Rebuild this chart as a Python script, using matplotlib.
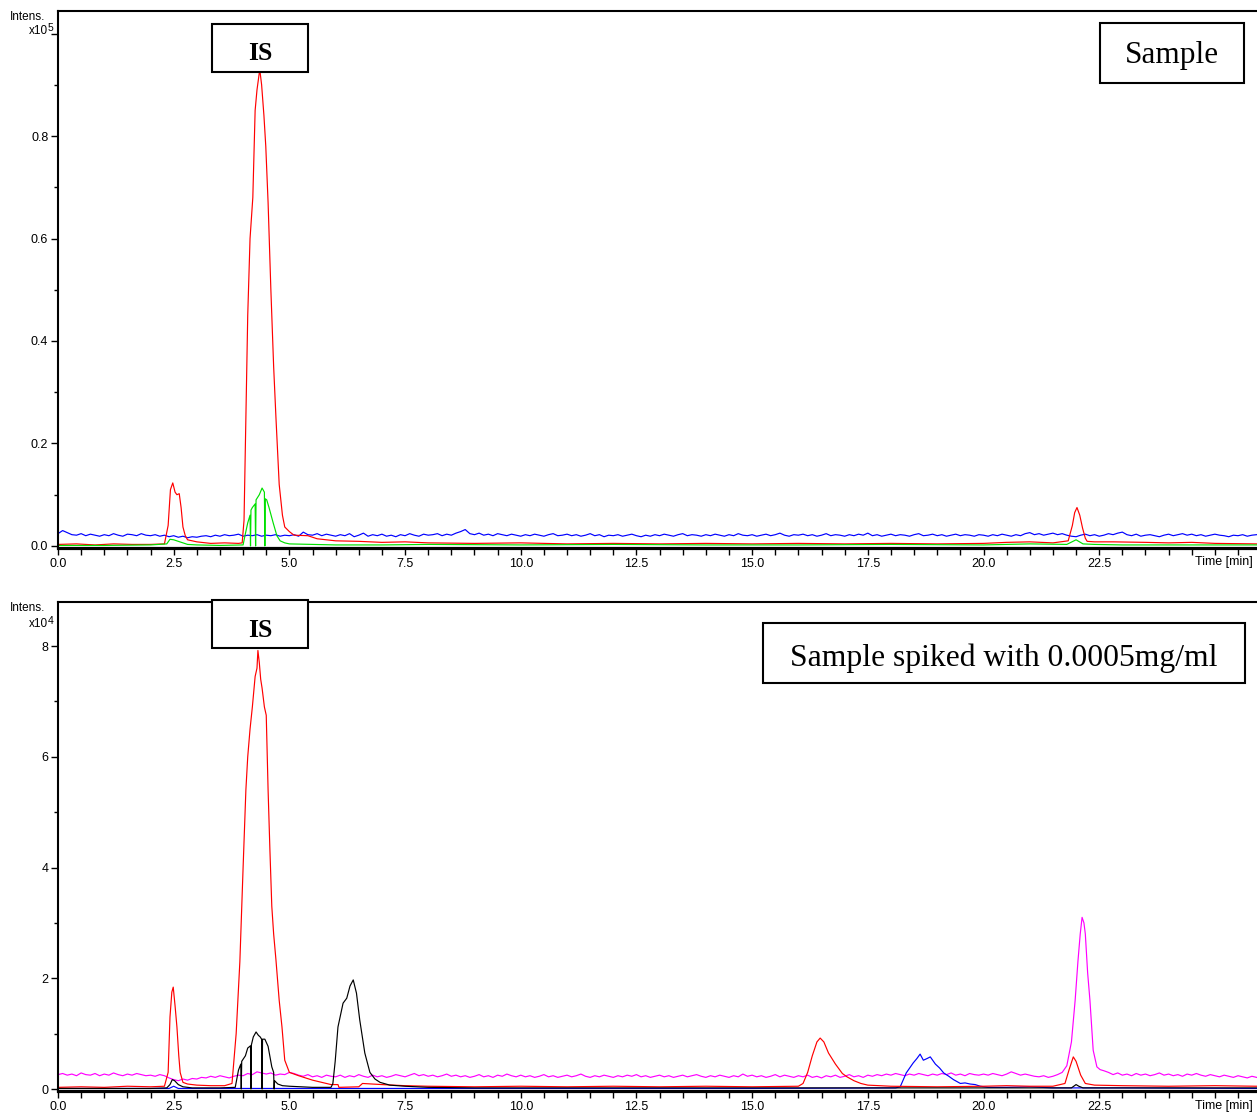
import matplotlib.pyplot as plt
import numpy as np
from matplotlib.patches import Rectangle
from matplotlib.ticker import MultipleLocator, FuncFormatter

plt.rcParams['font.family'] = ['Liberation Sans', 'DejaVu Sans']

W, H = 1257, 1113
XMAX = 25.91

# ---------- upper run: sample, intensity x10^5 ----------
# blue EIC, sampled every 0.1 min from 0.0 min
blue1_y = [
    0.024, 0.030, 0.026, 0.022, 0.021, 0.024, 0.020, 0.023, 0.021, 0.019,
    0.022, 0.020, 0.024, 0.021, 0.019, 0.023, 0.022, 0.020, 0.024, 0.021,
    0.020, 0.022, 0.019, 0.021, 0.018, 0.020, 0.017, 0.019, 0.016, 0.018,
    0.017, 0.019, 0.020, 0.018, 0.021, 0.019, 0.022, 0.020, 0.021, 0.023,
    0.019, 0.021, 0.020, 0.022, 0.019, 0.021, 0.020, 0.022, 0.019, 0.021,
    0.020, 0.022, 0.019, 0.027, 0.022, 0.021, 0.024, 0.020, 0.023, 0.021,
    0.019, 0.022, 0.020, 0.024, 0.018, 0.021, 0.025, 0.019, 0.022, 0.020,
    0.023, 0.019, 0.021, 0.018, 0.022, 0.020, 0.024, 0.021, 0.019, 0.023,
    0.021, 0.022, 0.024, 0.020, 0.023, 0.021, 0.025, 0.028, 0.032, 0.024,
    0.022, 0.025, 0.021, 0.023, 0.020, 0.024, 0.022, 0.020, 0.023, 0.021,
    0.019, 0.022, 0.020, 0.023, 0.021, 0.019, 0.022, 0.024, 0.020, 0.021,
    0.023, 0.020, 0.022, 0.019, 0.021, 0.024, 0.020, 0.022, 0.018, 0.021,
    0.020, 0.022, 0.019, 0.021, 0.023, 0.020, 0.018, 0.021, 0.019, 0.022,
    0.020, 0.023, 0.021, 0.019, 0.022, 0.024, 0.020, 0.022, 0.021, 0.019,
    0.022, 0.020, 0.023, 0.021, 0.019, 0.022, 0.020, 0.024, 0.021, 0.020,
    0.022, 0.019, 0.021, 0.023, 0.020, 0.022, 0.025, 0.021, 0.019, 0.022,
    0.021, 0.023, 0.020, 0.022, 0.019, 0.021, 0.024, 0.020, 0.022, 0.021,
    0.019, 0.022, 0.020, 0.023, 0.021, 0.025, 0.020, 0.022, 0.019, 0.021,
    0.023, 0.020, 0.022, 0.021, 0.019, 0.022, 0.024, 0.020, 0.021, 0.023,
    0.020, 0.022, 0.019, 0.021, 0.023, 0.020, 0.022, 0.021, 0.019, 0.022,
    0.021, 0.019, 0.022, 0.020, 0.023, 0.021, 0.019, 0.022, 0.020, 0.024,
    0.026, 0.022, 0.024, 0.021, 0.023, 0.025, 0.022, 0.024, 0.021, 0.019,
    0.018, 0.021, 0.023, 0.020, 0.022, 0.019, 0.021, 0.024, 0.022, 0.025,
    0.027, 0.022, 0.020, 0.023, 0.019, 0.021, 0.022, 0.020, 0.018, 0.021,
    0.023, 0.020, 0.022, 0.024, 0.021, 0.023, 0.020, 0.022, 0.019, 0.021,
    0.023, 0.021, 0.020, 0.018, 0.021, 0.020, 0.022, 0.019, 0.021, 0.022,
]

red1_t = [0.0, 0.4, 0.8, 1.2, 1.6, 2.0, 2.3, 2.38, 2.43, 2.48,
          2.53, 2.57, 2.62, 2.66, 2.7, 2.75, 2.8, 3.0, 3.3, 3.6,
          3.9, 3.98, 4.02, 4.06, 4.1, 4.15, 4.21, 4.26, 4.3, 4.33,
          4.36, 4.4, 4.45, 4.49, 4.54, 4.6, 4.66, 4.71, 4.78, 4.85,
          4.9, 5.0, 5.1, 5.4, 5.6, 5.8, 6.0, 6.5, 7.0, 7.5,
          8.0, 9.0, 10.0, 11.0, 12.0, 13.0, 14.0, 15.0, 16.0, 17.0,
          18.0, 19.0, 20.0, 20.5, 21.0, 21.5, 21.83, 21.92, 21.97, 22.02,
          22.08, 22.14, 22.2, 22.24, 22.4, 22.8, 23.5, 24.0, 24.5, 25.0,
          25.9]
red1_y = [0.003, 0.004, 0.002, 0.004, 0.003, 0.003, 0.004, 0.04, 0.11, 0.123,
          0.105, 0.1, 0.102, 0.075, 0.037, 0.02, 0.012, 0.008, 0.005, 0.006,
          0.005, 0.006, 0.05, 0.25, 0.45, 0.6, 0.68, 0.85, 0.89, 0.91,
          0.93, 0.9, 0.84, 0.78, 0.67, 0.5, 0.35, 0.25, 0.12, 0.06,
          0.037, 0.028, 0.021, 0.02, 0.014, 0.012, 0.01, 0.009, 0.007, 0.008,
          0.006, 0.005, 0.006, 0.004, 0.005, 0.004, 0.005, 0.004, 0.005, 0.004,
          0.005, 0.004, 0.005, 0.007, 0.008, 0.006, 0.01, 0.04, 0.065, 0.075,
          0.06, 0.035, 0.015, 0.009, 0.008, 0.008, 0.007, 0.006, 0.007, 0.005,
          0.004]

green1_t = [0.0, 1.0, 2.0, 2.35, 2.42, 2.5, 2.6, 2.7, 2.8, 3.0,
            3.5, 4.0, 4.04, 4.1, 4.15, 4.16, 4.17, 4.2, 4.26, 4.27,
            4.28, 4.35, 4.41, 4.46, 4.47, 4.48, 4.51, 4.56, 4.65, 4.73,
            4.8, 4.9, 5.0, 5.5, 6.0, 7.0, 8.0, 10.0, 12.0, 14.0,
            16.0, 18.0, 20.0, 21.0, 21.8, 22.0, 22.15, 22.4, 23.0, 25.9]
green1_y = [0.001, 0.001, 0.002, 0.004, 0.013, 0.012, 0.009, 0.006, 0.003, 0.002,
            0.001, 0.002, 0.02, 0.045, 0.06, 0.0, 0.07, 0.075, 0.082, 0.0,
            0.09, 0.1, 0.113, 0.105, 0.0, 0.092, 0.09, 0.075, 0.045, 0.02,
            0.01, 0.006, 0.004, 0.003, 0.002, 0.002, 0.003, 0.002, 0.003, 0.002,
            0.002, 0.003, 0.002, 0.004, 0.003, 0.012, 0.004, 0.003, 0.002, 0.002]

# ---------- lower run: spiked sample, intensity x10^4 ----------
# magenta EIC, 0.1 min steps from 0.0 to 21.6, the peak, then 22.6 to 25.9
mag2_y_a = [
    0.26, 0.28, 0.25, 0.27, 0.24, 0.29, 0.26, 0.25, 0.28, 0.24,
    0.27, 0.25, 0.29, 0.26, 0.24, 0.27, 0.25, 0.28, 0.26, 0.24,
    0.25, 0.23, 0.26, 0.24, 0.20, 0.17, 0.15, 0.18, 0.16, 0.19,
    0.18, 0.21, 0.20, 0.23, 0.21, 0.24, 0.22, 0.20, 0.23, 0.25,
    0.24, 0.28, 0.26, 0.31, 0.29, 0.27, 0.29, 0.25, 0.27, 0.26,
    0.30, 0.28, 0.25, 0.23, 0.26, 0.22, 0.24, 0.21, 0.25, 0.23,
    0.22, 0.25, 0.21, 0.24, 0.22, 0.26, 0.23, 0.21, 0.25, 0.22,
    0.24, 0.21, 0.23, 0.26, 0.24, 0.22, 0.25, 0.28, 0.24, 0.26,
    0.23, 0.25, 0.22, 0.24, 0.27, 0.23, 0.25, 0.22, 0.24, 0.21,
    0.23, 0.26, 0.22, 0.24, 0.21, 0.25, 0.23, 0.27, 0.24, 0.22,
    0.25, 0.22, 0.24, 0.21, 0.23, 0.26, 0.22, 0.24, 0.21, 0.23,
    0.25, 0.22, 0.24, 0.27, 0.23, 0.21, 0.24, 0.22, 0.25, 0.23,
    0.21, 0.24, 0.22, 0.25, 0.23, 0.26, 0.22, 0.24, 0.21, 0.23,
    0.25, 0.22, 0.24, 0.21, 0.23, 0.25, 0.22, 0.24, 0.26, 0.23,
    0.21, 0.24, 0.22, 0.25, 0.23, 0.21, 0.24, 0.22, 0.27, 0.23,
    0.25, 0.22, 0.24, 0.21, 0.23, 0.26, 0.22, 0.25, 0.23, 0.21,
    0.24, 0.22, 0.25, 0.21, 0.23, 0.20, 0.24, 0.22, 0.25, 0.21,
    0.23, 0.26, 0.22, 0.24, 0.21, 0.25, 0.23, 0.26, 0.24, 0.27,
    0.25, 0.28, 0.26, 0.24, 0.27, 0.25, 0.28, 0.26, 0.24, 0.27,
    0.25, 0.28, 0.26, 0.29, 0.25, 0.27, 0.24, 0.28, 0.26, 0.25,
    0.27, 0.25, 0.28, 0.26, 0.24, 0.27, 0.31, 0.28, 0.25, 0.27,
    0.25, 0.23, 0.22, 0.24, 0.21, 0.23, 0.26,
]
mag2_peak_t = [21.7, 21.8, 21.9, 21.98, 22.04, 22.09, 22.13,
               22.17, 22.2, 22.25, 22.3, 22.37, 22.45, 22.52]
mag2_peak_y = [0.30, 0.42, 0.85, 1.6, 2.3, 2.8, 3.1,
               3.0, 2.8, 2.1, 1.6, 0.7, 0.4, 0.35]
mag2_y_b = [
    0.33, 0.30, 0.26, 0.29, 0.25, 0.27, 0.24, 0.28, 0.25, 0.27,
    0.24, 0.26, 0.29, 0.25, 0.27, 0.24, 0.26, 0.23, 0.27, 0.25,
    0.28, 0.25, 0.23, 0.26, 0.24, 0.22, 0.25, 0.23, 0.21, 0.24,
    0.22, 0.20, 0.23, 0.21,
]

red2_t = [0.0, 0.5, 1.0, 1.5, 2.0, 2.3, 2.38, 2.42, 2.46, 2.49,
          2.53, 2.57, 2.61, 2.64, 2.7, 2.8, 3.0, 3.3, 3.6, 3.76,
          3.85, 3.93, 4.0, 4.06, 4.1, 4.15, 4.2, 4.26, 4.3, 4.32,
          4.35, 4.38, 4.41, 4.46, 4.5, 4.54, 4.58, 4.62, 4.66, 4.71,
          4.78, 4.84, 4.9, 5.0, 5.2, 5.5, 5.9, 6.05, 6.07, 6.5,
          6.58, 7.0, 7.5, 8.0, 9.0, 10.0, 11.0, 12.0, 13.0, 14.0,
          15.0, 16.0, 16.1, 16.2, 16.3, 16.4, 16.47, 16.55, 16.65, 16.8,
          16.95, 17.05, 17.2, 17.35, 17.5, 18.0, 19.0, 20.0, 20.5, 21.0,
          21.5, 21.76, 21.85, 21.94, 22.0, 22.1, 22.2, 22.4, 23.0, 24.0,
          25.0, 25.9]
red2_y = [0.03, 0.04, 0.03, 0.05, 0.04, 0.05, 0.3, 1.3, 1.75, 1.84,
          1.5, 1.12, 0.6, 0.3, 0.12, 0.09, 0.07, 0.06, 0.06, 0.1,
          1.0, 2.3, 4.0, 5.4, 6.0, 6.5, 6.9, 7.45, 7.6, 7.92,
          7.7, 7.4, 7.24, 6.9, 6.75, 5.4, 4.3, 3.3, 2.8, 2.33,
          1.6, 1.12, 0.52, 0.3, 0.24, 0.16, 0.08, 0.08, 0.03, 0.04,
          0.1, 0.08, 0.06, 0.05, 0.04, 0.05, 0.04, 0.05, 0.04, 0.05,
          0.04, 0.05, 0.1, 0.3, 0.6, 0.85, 0.92, 0.85, 0.65, 0.45,
          0.28, 0.22, 0.15, 0.1, 0.07, 0.05, 0.04, 0.05, 0.06, 0.05,
          0.05, 0.1, 0.35, 0.58, 0.5, 0.25, 0.1, 0.07, 0.06, 0.05,
          0.06, 0.05]

black2_t = [0.0, 1.0, 2.0, 2.35, 2.42, 2.47, 2.52, 2.6, 2.7, 2.9,
            3.5, 3.83, 3.9, 3.95, 3.96, 3.97, 4.05, 4.1, 4.16, 4.17,
            4.18, 4.22, 4.28, 4.33, 4.37, 4.4, 4.41, 4.42, 4.47, 4.54,
            4.62, 4.66, 4.67, 4.68, 4.75, 4.85, 5.0, 5.5, 5.9, 5.94,
            5.99, 6.05, 6.16, 6.24, 6.31, 6.38, 6.45, 6.52, 6.63, 6.74,
            6.85, 6.96, 7.17, 7.5, 8.0, 9.0, 12.0, 15.0, 18.0, 21.0,
            21.9, 22.0, 22.06, 22.15, 23.0, 25.9]
black2_y = [0.01, 0.01, 0.01, 0.02, 0.08, 0.17, 0.15, 0.08, 0.04, 0.02,
            0.02, 0.03, 0.34, 0.45, 0.0, 0.5, 0.6, 0.74, 0.78, 0.0,
            0.8, 0.94, 1.03, 0.97, 0.94, 0.9, 0.0, 0.9, 0.9, 0.77,
            0.4, 0.3, 0.0, 0.15, 0.09, 0.06, 0.05, 0.03, 0.03, 0.1,
            0.5, 1.12, 1.55, 1.64, 1.86, 1.97, 1.73, 1.25, 0.65, 0.3,
            0.18, 0.12, 0.07, 0.05, 0.03, 0.02, 0.02, 0.02, 0.02, 0.02,
            0.02, 0.08, 0.05, 0.02, 0.02, 0.02]

blue2_t = [0.0, 2.4, 2.5, 2.6, 5.0, 10.0, 15.0, 18.1, 18.2, 18.33,
           18.48, 18.56, 18.63, 18.7, 18.78, 18.85, 18.96, 19.05, 19.14, 19.25,
           19.35, 19.5, 19.6, 19.71, 19.82, 19.93, 20.1, 20.5, 21.0, 21.5,
           22.0, 23.0, 25.9]
blue2_y = [0.01, 0.01, 0.05, 0.01, 0.01, 0.01, 0.01, 0.02, 0.04, 0.29,
           0.47, 0.55, 0.63, 0.52, 0.55, 0.58, 0.45, 0.38, 0.29, 0.23,
           0.17, 0.1, 0.11, 0.09, 0.08, 0.05, 0.03, 0.03, 0.04, 0.02,
           0.02, 0.02, 0.01]


def grid(start, vals):
    return start + 0.1 * np.arange(len(vals))


def fx(px):
    return px / W


def fy(py):
    return 1 - py / H


def x_label(v, pos):
    k = v / 2.5
    if abs(k - round(k)) < 1e-6 and v < 24:
        return f'{v:.1f}'
    return ''


def setup(ax, ylim, major, minor, yfmt):
    ax.set_xlim(0, XMAX)
    ax.set_ylim(*ylim)
    ax.spines['right'].set_visible(False)
    ax.spines['left'].set_linewidth(1.5)
    ax.spines['top'].set_linewidth(1.5)
    ax.spines['bottom'].set_linewidth(2.3)
    ax.xaxis.set_major_locator(MultipleLocator(0.5))
    ax.xaxis.set_major_formatter(FuncFormatter(x_label))
    ax.yaxis.set_major_locator(MultipleLocator(major))
    ax.yaxis.set_minor_locator(MultipleLocator(minor))
    ax.yaxis.set_major_formatter(FuncFormatter(yfmt))
    ax.tick_params(axis='x', direction='out', length=5, width=1, pad=2, labelsize=9)
    ax.tick_params(axis='y', which='major', direction='out', length=5, width=1,
                   pad=2, labelsize=9)
    ax.tick_params(axis='y', which='minor', direction='out', length=3, width=1)


def boxed(x0, y0, x1, y1, base, text, **kw):
    fig.add_artist(Rectangle((fx(x0), fy(y1)), fx(x1) - fx(x0), fy(y0) - fy(y1),
                             transform=fig.transFigure, facecolor='white',
                             edgecolor='black', linewidth=1.5, zorder=10))
    fig.text(fx((x0 + x1) / 2), fy(base), text, ha='center', va='baseline',
             family='Liberation Serif', zorder=11, **kw)


fig = plt.figure(figsize=(W / 100, H / 100), dpi=100)
ax1 = fig.add_axes([fx(58), fy(548), 1 - fx(58), fy(11) - fy(548)])
ax2 = fig.add_axes([fx(58), fy(1091), 1 - fx(58), fy(602) - fy(1091)])

setup(ax1, (-0.004, 1.044), 0.2, 0.1,
      lambda v, p: f'{v:.1f}' if v < 0.95 else '')
setup(ax2, (-0.036, 8.795), 2, 1, lambda v, p: f'{v:.0f}')

lw = 0.85
ax1.plot(grid(0.0, blue1_y), blue1_y, color='#0000ff', lw=lw)
ax1.plot(red1_t, red1_y, color='#ff0000', lw=lw)
ax1.plot(green1_t, green1_y, color='#00e000', lw=lw)

mag2_t = np.concatenate([grid(0.0, mag2_y_a), mag2_peak_t, grid(22.6, mag2_y_b)])
mag2_y = np.concatenate([mag2_y_a, mag2_peak_y, mag2_y_b])
ax2.plot(mag2_t, mag2_y, color='#ff00ff', lw=lw)
ax2.plot(blue2_t, blue2_y, color='#0000ff', lw=lw)
ax2.plot(red2_t, red2_y, color='#ff0000', lw=lw)
ax2.plot(black2_t, black2_y, color='black', lw=lw)

# axis captions in the DataAnalysis style
fig.text(fx(10), fy(17), 'Intens.', fontsize=8.5, va='center')
fig.text(fx(48), fy(31), 'x10', fontsize=8.5, va='center', ha='right')
fig.text(fx(48), fy(28), '5', fontsize=7.5, va='center', ha='left')
fig.text(fx(10), fy(608), 'Intens.', fontsize=8.5, va='center')
fig.text(fx(48), fy(624), 'x10', fontsize=8.5, va='center', ha='right')
fig.text(fx(48), fy(621), '4', fontsize=7.5, va='center', ha='left')
fig.text(fx(1195), fy(562), 'Time [min]', fontsize=9, va='center')
fig.text(fx(1195), fy(1106), 'Time [min]', fontsize=9, va='center')

boxed(212, 24, 308, 72, 60, 'IS', fontsize=18.5, fontweight='bold')
boxed(212, 600, 308, 648, 637, 'IS', fontsize=18.5, fontweight='bold')
boxed(1100, 23, 1244, 83, 63, 'Sample', fontsize=22.5)
boxed(763, 623, 1245, 683, 666, 'Sample spiked with 0.0005mg/ml', fontsize=22.8)

fig.savefig('out.png', dpi=100)
